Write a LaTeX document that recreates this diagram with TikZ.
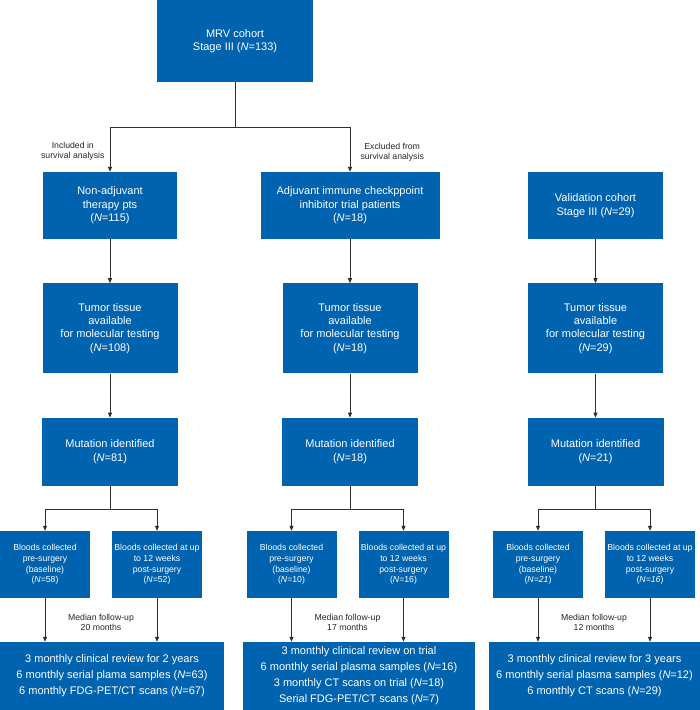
\documentclass[tikz,border=0pt]{standalone}
\usepackage{fontspec}
\setmainfont{Liberation Sans}
\usepackage{tikz}
\usetikzlibrary{arrows.meta,positioning,calc}
\definecolor{boxblue}{RGB}{0,99,176}
\definecolor{linegray}{RGB}{45,45,45}
\newcommand{\nval}[1]{(\textit{N}=#1)}

\begin{document}
\begin{tikzpicture}[x=1pt,y=-1pt,
  box/.style={fill=boxblue,text=white,align=center,inner sep=0pt,
              font=\fontsize{11}{13.4}\selectfont},
  bloodbox/.style={box,minimum width=90pt,minimum height=67pt,
              font=\fontsize{8.7}{10.7}\selectfont},
  endbox/.style={box,minimum height=68pt,font=\fontsize{11}{16}\selectfont},
  note/.style={align=center,font=\fontsize{8.7}{10}\selectfont,text=black!85},
  line/.style={draw=linegray,line width=0.8pt},
  arrow/.style={line,-{Triangle[length=5pt,width=4pt]}},
  node distance=44pt
]
\useasboundingbox (0,0) rectangle (700,710);
\node[box,minimum width=156pt,minimum height=82pt] (mrv) at (235,41) {MRV cohort\\Stage III \nval{133}};
\node[box,minimum width=134pt,minimum height=67pt] (nonadj) at (110,205.5) {Non-adjuvant\\therapy pts\\\nval{115}};
\node[box,minimum width=179pt,minimum height=67pt] (adj) at (350,205.5) {Adjuvant immune checkppoint\\inhibitor trial patients\\\nval{18}};
\node[box,minimum width=135pt,minimum height=67pt] (valid) at (595.5,205.5) {Validation cohort\\Stage III \nval{29}};
\node[box,minimum width=135pt,minimum height=90pt,below=of nonadj] (tumor1) {Tumor tissue\\available\\for molecular testing\\\nval{108}};
\node[box,minimum width=135pt,minimum height=90pt,below=of adj] (tumor2) {Tumor tissue\\available\\for molecular testing\\\nval{18}};
\node[box,minimum width=135pt,minimum height=90pt,below=of valid] (tumor3) {Tumor tissue\\available\\for molecular testing\\\nval{29}};
\node[box,minimum width=136pt,minimum height=68pt,below=of tumor1] (mut1) {Mutation identified\\\nval{81}};
\node[box,minimum width=136pt,minimum height=68pt,below=of tumor2] (mut2) {Mutation identified\\\nval{18}};
\node[box,minimum width=136pt,minimum height=68pt,below=of tumor3] (mut3) {Mutation identified\\\nval{21}};
% bloods
\node[bloodbox] (pre1) at (45,564.5) {Bloods collected\\pre-surgery\\(baseline)\\\nval{58}};
\node[bloodbox] (post1) at (157,564.5) {Bloods collected at up\\to 12 weeks\\post-surgery\\\nval{52}};
\node[bloodbox] (pre2) at (291.5,564.5) {Bloods collected\\pre-surgery\\(baseline)\\\nval{10}};
\node[bloodbox] (post2) at (403.5,564.5) {Bloods collected at up\\to 12 weeks\\post-surgery\\\nval{16}};
\node[bloodbox] (pre3) at (538,564.5) {Bloods collected\\pre-surgery\\(baseline)\\(\textit{N=21})};
\node[bloodbox] (post3) at (650,564.5) {Bloods collected at up\\to 12 weeks\\post-surgery\\(\textit{N=16})};
% follow-up
\node[endbox,minimum width=224pt] (fu1) at (112,676) {3 monthly clinical review for 2 years\\6 monthly serial plama samples \nval{63}\\6 monthly FDG-PET/CT scans \nval{67}};
\node[endbox,minimum width=232pt] (fu2) at (359,676) {3 monthly clinical review on trial\\6 monthly serial plasma samples \nval{16}\\3 monthly CT scans on trial \nval{18}\\Serial FDG-PET/CT scans \nval{7}};
\node[endbox,minimum width=211pt] (fu3) at (594.5,676) {3 monthly clinical review for 3 years\\6 monthly serial plasma samples \nval{12}\\6 monthly CT scans \nval{29}};
% labels
\node[note,anchor=east] (incl) at (108,151) {Included in\\survival analysis};
\node[note,anchor=west] (excl) at (357,152) {Excluded from\\survival analysis};
\node[note] (med1) at (101,622) {Median follow-up\\20 months};
\node[note] (med2) at (347.5,622) {Median follow-up\\17 months};
\node[note] (med3) at (594,622) {Median follow-up\\12 months};
% connectors
\coordinate (fork0) at (235,127);
\draw[line] (mrv) -- (fork0);
\draw[arrow] (fork0) -| (nonadj);
\draw[arrow] (fork0) -| (adj);
\draw[arrow] (nonadj) -- (tumor1);
\draw[arrow] (adj) -- (tumor2);
\draw[arrow] (valid) -- (tumor3);
\draw[arrow] (tumor1) -- (mut1);
\draw[arrow] (tumor2) -- (mut2);
\draw[arrow] (tumor3) -- (mut3);
\coordinate (fork1) at ($(mut1.south)+(0,23)$);
\coordinate (fork2) at ($(mut2.south)+(0,23)$);
\coordinate (fork3) at ($(mut3.south)+(0,23)$);
\draw[line] (mut1) -- (fork1);
\draw[line] (mut2) -- (fork2);
\draw[line] (mut3) -- (fork3);
\draw[arrow] (fork1) -| (pre1);
\draw[arrow] (fork1) -| (post1);
\draw[arrow] (fork2) -| (pre2);
\draw[arrow] (fork2) -| (post2);
\draw[arrow] (fork3) -| (pre3);
\draw[arrow] (fork3) -| (post3);
\draw[arrow] (pre1) -- (pre1 |- fu1.north);
\draw[arrow] (post1) -- (post1 |- fu1.north);
\draw[arrow] (pre2) -- (pre2 |- fu2.north);
\draw[arrow] (post2) -- (post2 |- fu2.north);
\draw[arrow] (pre3) -- (pre3 |- fu3.north);
\draw[arrow] (post3) -- (post3 |- fu3.north);
\end{tikzpicture}
\end{document}
